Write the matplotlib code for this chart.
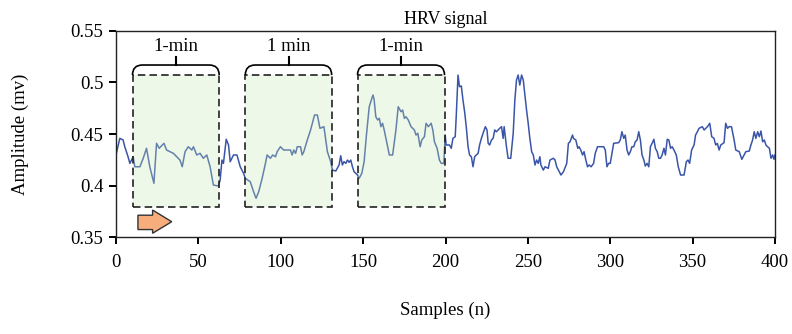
import matplotlib
matplotlib.use("Agg")
import matplotlib.pyplot as plt
from matplotlib.patches import Rectangle, Polygon, PathPatch
from matplotlib.path import Path

plt.rcParams['font.family'] = ['Liberation Serif', 'DejaVu Serif']

# ---- data ----
samples = [0.2, 2.3, 4.3, 5.3, 7.3, 8.4, 10.4, 11.4, 14.5, 16.5, 18.5, 20.5, 23.0, 24.6, 26.2,
           29.1, 30.7, 34.8, 36.8, 38.8, 40.2, 41.9, 43.9, 46.0, 47.0, 49.0, 51.0, 53.0, 55.1,
           57.1, 59.1, 62.2, 63.2, 64.3, 65.2, 66.9, 68.3, 69.3, 71.3, 73.4, 75.4, 77.4, 78.5,
           81.5, 83.5, 85.0, 86.6, 88.7, 90.7, 91.7, 93.7, 95.1, 96.8, 97.8, 99.8, 101.8, 105.9,
           106.9, 107.9, 109.0, 110.0, 112.0, 113.0, 114.0, 116.1, 118.1, 120.5, 122.2, 123.8,
           126.2, 128.3, 130.3, 131.3, 133.4, 135.4, 136.4, 137.4, 138.4, 139.5, 140.5, 141.5,
           142.5, 143.5, 144.5, 145.5, 146.6, 147.6, 149.2, 150.6, 152.0, 153.7, 155.3, 156.0,
           156.7, 157.7, 158.8, 159.8, 160.8, 161.8, 162.8, 164.9, 165.9, 167.9, 169.9, 171.3,
           173.0, 174.0, 175.0, 176.0, 177.4, 179.1, 180.1, 181.1, 182.1, 183.2, 184.6, 185.6,
           187.2, 188.2, 189.6, 191.3, 192.3, 193.3, 194.9, 196.3, 197.4, 199.0, 199.8, 200.4,
           202.4, 203.5, 204.5, 205.9, 206.5, 207.6, 208.5, 209.6, 210.6, 211.6, 212.6, 213.7,
           214.6, 215.7, 216.7, 217.7, 218.7, 219.8, 220.7, 221.8, 222.8, 224.2, 225.2, 225.9,
           226.8, 227.9, 228.9, 229.9, 230.9, 231.9, 232.9, 234.0, 235.0, 235.6, 237.0, 238.0,
           239.6, 241.1, 242.1, 243.1, 244.1, 245.1, 246.2, 247.2, 248.2, 249.2, 250.2, 251.2,
           252.3, 253.3, 254.3, 255.3, 256.3, 257.3, 257.9, 259.4, 260.4, 262.4, 263.4, 265.5,
           266.5, 267.5, 269.5, 270.1, 271.6, 273.6, 274.6, 275.6, 277.1, 277.7, 279.1, 280.3,
           281.1, 282.1, 283.2, 284.1, 285.2, 286.2, 287.2, 288.4, 289.9, 290.9, 292.3, 296.0,
           297.0, 298.0, 299.0, 300.0, 302.1, 305.1, 306.1, 307.1, 308.2, 309.1, 310.2, 311.2,
           312.2, 313.2, 314.3, 315.2, 316.3, 317.3, 318.3, 319.3, 320.4, 321.3, 322.4, 323.4,
           324.4, 325.4, 326.5, 327.4, 328.5, 329.5, 330.5, 331.5, 332.6, 333.5, 334.6, 335.6,
           336.6, 337.6, 338.7, 340.1, 341.3, 342.7, 344.8, 346.2, 347.2, 348.2, 349.4, 350.9,
           351.8, 352.9, 353.9, 355.9, 357.0, 358.0, 359.0, 360.4, 361.6, 363.0, 364.0, 365.0,
           366.1, 367.1, 369.1, 370.1, 371.2, 372.2, 373.6, 375.2, 376.2, 378.3, 379.9, 381.3,
           382.3, 384.4, 385.4, 386.4, 387.4, 388.4, 389.5, 390.5, 391.5, 392.5, 393.5, 394.5,
           395.5, 396.6, 397.6, 398.6, 399.4, 400.0]
amplitude = [0.4313, 0.4458, 0.4442, 0.4377, 0.4280, 0.4216, 0.4280, 0.4183, 0.4183, 0.4265,
             0.4362, 0.4183, 0.4023, 0.4410, 0.4362, 0.4410, 0.4345, 0.4313, 0.4280, 0.4248,
             0.4183, 0.4329, 0.4377, 0.4345, 0.4377, 0.4297, 0.4313, 0.4265, 0.4297, 0.4183,
             0.4006, 0.3997, 0.4055, 0.4248, 0.4216, 0.4449, 0.4394, 0.4232, 0.4297, 0.4297,
             0.4183, 0.4120, 0.4071, 0.4038, 0.3941, 0.3878, 0.3941, 0.4071, 0.4216, 0.4297,
             0.4265, 0.4297, 0.4280, 0.4329, 0.4377, 0.4345, 0.4345, 0.4297, 0.4345, 0.4313,
             0.4377, 0.4377, 0.4297, 0.4329, 0.4442, 0.4539, 0.4684, 0.4684, 0.4555, 0.4571,
             0.4329, 0.4232, 0.4151, 0.4142, 0.4200, 0.4290, 0.4200, 0.4232, 0.4216, 0.4248,
             0.4226, 0.4248, 0.4183, 0.4135, 0.4120, 0.4103, 0.4071, 0.4120, 0.4232, 0.4490,
             0.4764, 0.4846, 0.4878, 0.4829, 0.4667, 0.4636, 0.4652, 0.4571, 0.4604, 0.4539,
             0.4377, 0.4297, 0.4297, 0.4539, 0.4764, 0.4716, 0.4732, 0.4652, 0.4667, 0.4636,
             0.4571, 0.4555, 0.4539, 0.4490, 0.4507, 0.4377, 0.4442, 0.4474, 0.4604, 0.4571,
             0.4604, 0.4539, 0.4425, 0.4362, 0.4248, 0.4216, 0.4216, 0.4490, 0.4394, 0.4394,
             0.4362, 0.4458, 0.4474, 0.4667, 0.5071, 0.4958, 0.4965, 0.4829, 0.4716, 0.4571,
             0.4377, 0.4297, 0.4280, 0.4183, 0.4280, 0.4297, 0.4313, 0.4394, 0.4458, 0.4507,
             0.4571, 0.4539, 0.4410, 0.4394, 0.4442, 0.4458, 0.4539, 0.4522, 0.4539, 0.4555,
             0.4571, 0.4458, 0.4571, 0.4377, 0.4265, 0.4265, 0.4507, 0.4829, 0.5023, 0.5071,
             0.4974, 0.5071, 0.5023, 0.4878, 0.4732, 0.4604, 0.4458, 0.4329, 0.4297, 0.4200,
             0.4248, 0.4216, 0.4280, 0.4200, 0.4151, 0.4183, 0.4168, 0.4248, 0.4265, 0.4248,
             0.4183, 0.4120, 0.4103, 0.4135, 0.4216, 0.4410, 0.4425, 0.4490, 0.4458, 0.4442,
             0.4362, 0.4377, 0.4345, 0.4297, 0.4329, 0.4248, 0.4183, 0.4200, 0.4183, 0.4216,
             0.4313, 0.4377, 0.4377, 0.4345, 0.4183, 0.4216, 0.4216, 0.4410, 0.4416, 0.4442,
             0.4522, 0.4458, 0.4490, 0.4345, 0.4297, 0.4329, 0.4377, 0.4377, 0.4425, 0.4442,
             0.4522, 0.4442, 0.4297, 0.4248, 0.4190, 0.4216, 0.4183, 0.4377, 0.4410, 0.4449,
             0.4362, 0.4329, 0.4265, 0.4265, 0.4297, 0.4362, 0.4297, 0.4449, 0.4442, 0.4362,
             0.4377, 0.4345, 0.4297, 0.4183, 0.4103, 0.4103, 0.4232, 0.4248, 0.4216, 0.4345,
             0.4394, 0.4490, 0.4522, 0.4555, 0.4571, 0.4539, 0.4555, 0.4571, 0.4604, 0.4474,
             0.4458, 0.4394, 0.4410, 0.4345, 0.4394, 0.4416, 0.4604, 0.4555, 0.4571, 0.4571,
             0.4442, 0.4345, 0.4329, 0.4255, 0.4297, 0.4329, 0.4335, 0.4394, 0.4442, 0.4522,
             0.4458, 0.4522, 0.4474, 0.4529, 0.4425, 0.4442, 0.4394, 0.4377, 0.4362, 0.4265,
             0.4297, 0.4255, 0.4297]

windows = [(10.0, 62.6), (78.5, 130.9), (146.6, 199.4)]
window_labels = ["1-min", "1 min", "1-min"]
xticks = [0, 50, 100, 150, 200, 250, 300, 350, 400]
yticks = [0.35, 0.40, 0.45, 0.50, 0.55]
ytick_labels = ["0.35", "0.4", "0.45", "0.5", "0.55"]

# ---- figure ----
fig = plt.figure(figsize=(7.92, 3.34), dpi=100)
ax = fig.add_axes([0.1465, 0.2895, 0.832, 0.6185])

ax.plot(samples, amplitude, color='#3a55a8', lw=1.1, zorder=2)

box_bottom, box_top = 0.3796, 0.5071
bracket_y, stem_y, label_y = 0.5168, 0.5245, 0.5265
r = 6.0
for (x0, x1), lab in zip(windows, window_labels):
    ax.add_patch(Rectangle((x0, box_bottom), x1 - x0, box_top - box_bottom,
                           facecolor='#c8eab4', alpha=0.3, edgecolor='none', zorder=3))
    ax.add_patch(Rectangle((x0, box_bottom), x1 - x0, box_top - box_bottom,
                           facecolor='none', edgecolor='#222222', lw=1.2,
                           linestyle=(0, (4.5, 2.5)), zorder=4))
    verts = [(x0, box_top), (x0, bracket_y), (x0 + r, bracket_y),
             (x1 - r, bracket_y), (x1, bracket_y), (x1, box_top)]
    codes = [Path.MOVETO, Path.CURVE3, Path.CURVE3, Path.LINETO, Path.CURVE3, Path.CURVE3]
    ax.add_patch(PathPatch(Path(verts, codes), facecolor='none', edgecolor='black',
                           lw=1.2, zorder=4))
    xm = (x0 + x1) / 2
    ax.plot([xm, xm], [bracket_y, stem_y], color='black', lw=1.5, zorder=4)
    ax.text(xm, label_y, lab, ha='center', va='bottom', fontsize=13.5, zorder=5)

# orange arrow
arrow = Polygon([(13.3, 0.3714), (22.2, 0.3714), (22.2, 0.3764), (33.8, 0.3651),
                 (22.2, 0.3539), (22.2, 0.3575), (13.3, 0.3575)], closed=True,
                facecolor='#f8ad7c', edgecolor='#333333', lw=1.0, zorder=5)
ax.add_patch(arrow)

ax.set_xlim(0, 400)
ax.set_ylim(0.35, 0.55)
ax.set_xticks(xticks)
ax.set_yticks(yticks)
ax.set_yticklabels(ytick_labels)
ax.tick_params(axis='both', direction='out', length=5, width=1.4, labelsize=13.5, pad=4)
ax.tick_params(axis='x', pad=7)
for s in ax.spines.values():
    s.set_linewidth(1.0)
    s.set_color('#222222')

ax.set_title("HRV signal", fontsize=13, pad=5)
ax.set_xlabel("Samples (n)", fontsize=13.5, labelpad=22)
ax.set_ylabel("Amplitude (mv)", fontsize=13.5, labelpad=30)

fig.savefig("out.png", dpi=100)
